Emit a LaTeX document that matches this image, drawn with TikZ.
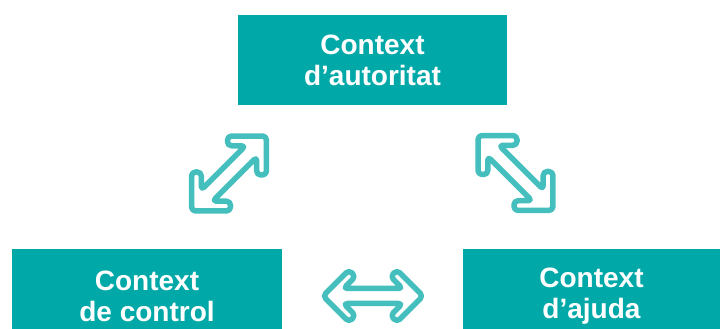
\documentclass[tikz,border=0pt]{standalone}
\usepackage{fontspec}
\setmainfont{Liberation Sans}
\usepackage{tikz}
\usetikzlibrary{positioning}

\definecolor{boxteal}{HTML}{00A9A8}
\definecolor{arrowteal}{HTML}{45BFBE}

\tikzset{
  ctxbox/.style={fill=boxteal, text=white, align=center, inner sep=0pt,
    font=\fontsize{28}{31}\selectfont\bfseries},
  arrowline/.style={draw=arrowteal, line width=5.5pt, fill=white,
    rounded corners=4pt, line join=round},
  dblarrow/.pic={
    \draw[arrowline] (-50,0) -- (-24,26) -- (-17.5,19.5) -- (-29.5,7.5)
      -- (29.5,7.5) -- (17.5,19.5) -- (24,26) -- (50,0) -- (24,-26)
      -- (17.5,-19.5) -- (29.5,-7.5) -- (-29.5,-7.5) -- (-17.5,-19.5)
      -- (-24,-26) -- cycle;
  }
}

\begin{document}
\begin{tikzpicture}[x=1pt,y=1pt]
            % page frame
            \clip (0,0) rectangle (720,329);
            \fill[white] (0,0) rectangle (720,329);
            % draw context boxes
            \node[ctxbox, minimum width=269pt, minimum height=90pt] (autoritat)
                  at (372.5,269) {Context\\d’autoritat};
            \node[ctxbox, minimum width=270pt, minimum height=94pt] (control)
                  at (147,32.5) {Context\\de control};
            \node[ctxbox, minimum width=257pt, minimum height=94pt] (ajuda)
                  at (591.5,32.5) {Context\\d’ajuda};
            % draw double arrows
            \pic[rotate=45, scale=1.06]  at (229,155.5) {dblarrow};
            \pic[rotate=-45, scale=1.06] at (515.5,156) {dblarrow};
            \pic at (373,33) {dblarrow};
\end{tikzpicture}
\end{document}
